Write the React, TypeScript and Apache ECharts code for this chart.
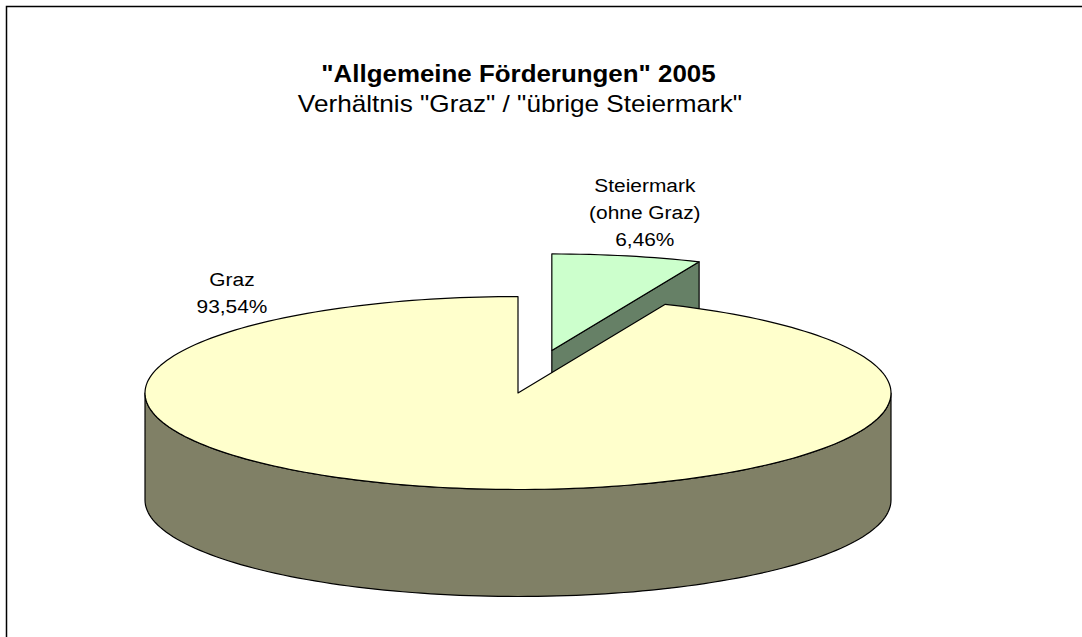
import React, { useEffect, useRef } from "react";
import * as echarts from "echarts";

// ---- data ----
const categories = ["Steiermark\n(ohne Graz)", "Graz"];
const values = [6.46, 93.54];
const titleText = '"Allgemeine Förderungen" 2005';
const subtitleText = 'Verhältnis "Graz" / "übrige Steiermark"';

// ---- style / geometry ----
const TOP_COLORS = ["#CCFFCC", "#FFFFCC"];
const SIDE_COLORS = ["#668066", "#808066"];
const EXPLODE = [0.45, 0];
const LABEL_OFFSETS = [
  [93, -138],
  [-286, -100],
];
const CX = 518;
const CY = 393;
const RX = 373;
const RY = 96.5;
const DEPTH = 107;
const FONT = "'Liberation Sans', Arial, sans-serif";

const rad = (d: number) => (d * Math.PI) / 180;
function rim(ox: number, oy: number, deg: number, dz: number): number[] {
  return [ox + RX * Math.sin(rad(deg)), oy - RY * Math.cos(rad(deg)) + dz];
}
function arcPts(ox: number, oy: number, a0: number, a1: number, dz: number) {
  const n = Math.max(2, Math.ceil(Math.abs(a1 - a0) / 1.5) + 1);
  const pts: number[][] = [];
  for (let i = 0; i < n; i++) {
    const a = a0 + ((a1 - a0) * i) / (n - 1);
    pts.push(rim(ox, oy, a, dz));
  }
  return pts;
}
function fmt(v: number) {
  return v.toFixed(2).replace(".", ",") + "%";
}

function renderItem(params: any, api: any) {
  const idx = params.dataIndex;
  const total = values.reduce((s, v) => s + v, 0);
  let a0 = 0;
  for (let i = 0; i < idx; i++) a0 += (values[i] / total) * 360;
  const val = api.value(0);
  const a1 = a0 + (val / total) * 360;
  const mid = (a0 + a1) / 2;
  const f = EXPLODE[idx];
  const ox = CX + f * RX * Math.sin(rad(mid));
  const oy = CY - f * RY * Math.cos(rad(mid));
  const line = { stroke: "#000", lineWidth: 1.2, lineJoin: "round" };
  const children: any[] = [];

  const w0 = Math.max(a0, 90);
  const w1 = Math.min(a1, 270);
  if (w1 > w0) {
    children.push({
      type: "polygon",
      shape: { points: [...arcPts(ox, oy, w0, w1, 0), ...arcPts(ox, oy, w1, w0, DEPTH)] },
      style: { fill: SIDE_COLORS[idx], ...line },
    });
  }
  const face = (a: number) => ({
    type: "polygon",
    shape: {
      points: [[ox, oy], rim(ox, oy, a, 0), rim(ox, oy, a, DEPTH), [ox, oy + DEPTH]],
    },
    style: { fill: SIDE_COLORS[idx], ...line },
  });
  if (Math.sin(rad(a1)) > 1e-6) children.push(face(a1));
  if (Math.sin(rad(a0)) < -1e-6) children.push(face(a0));

  children.push({
    type: "polygon",
    shape: { points: [[ox, oy], ...arcPts(ox, oy, a0, a1, 0)] },
    style: { fill: TOP_COLORS[idx], ...line },
  });
  children.push({
    type: "text",
    x: ox + LABEL_OFFSETS[idx][0],
    y: oy + LABEL_OFFSETS[idx][1],
    scaleX: 1.1,
    style: {
      text: categories[idx] + "\n" + fmt(val),
      fill: "#000",
      fontSize: 19,
      fontFamily: FONT,
      align: "center",
      verticalAlign: "middle",
      lineHeight: 27,
    },
  });
  return { type: "group", children };
}

export default function App() {
  const ref = useRef<HTMLDivElement>(null);
  useEffect(() => {
    document.body.style.margin = "0";
    document.body.style.overflow = "hidden";
    const chart = echarts.init(ref.current!, null, { renderer: "svg" });
    chart.setOption({
      animation: false,
      backgroundColor: "#fff",
      graphic: [
        {
          type: "polyline",
          silent: true,
          shape: { points: [[6.5, 637], [6.5, 6.5], [1082, 6.5]] },
          style: { fill: "none", stroke: "#000", lineWidth: 1.5 },
          z: -1,
        },
        {
          type: "text",
          x: 518.5,
          y: 74,
          scaleX: 1.126,
          style: {
            text: titleText,
            fill: "#000",
            fontSize: 23,
            fontWeight: "bold",
            fontFamily: FONT,
            align: "center",
            verticalAlign: "middle",
          },
        },
        {
          type: "text",
          x: 520,
          y: 104,
          scaleX: 1.138,
          style: {
            text: subtitleText,
            fill: "#000",
            fontSize: 23,
            fontFamily: FONT,
            align: "center",
            verticalAlign: "middle",
          },
        },
      ],
      series: [
        {
          type: "custom",
          coordinateSystem: "none",
          renderItem,
          data: values.map((v, i) => ({ name: categories[i], value: v })),
        },
      ],
    });
    return () => chart.dispose();
  }, []);
  return <div ref={ref} style={{ width: 1082, height: 637 }} />;
}
